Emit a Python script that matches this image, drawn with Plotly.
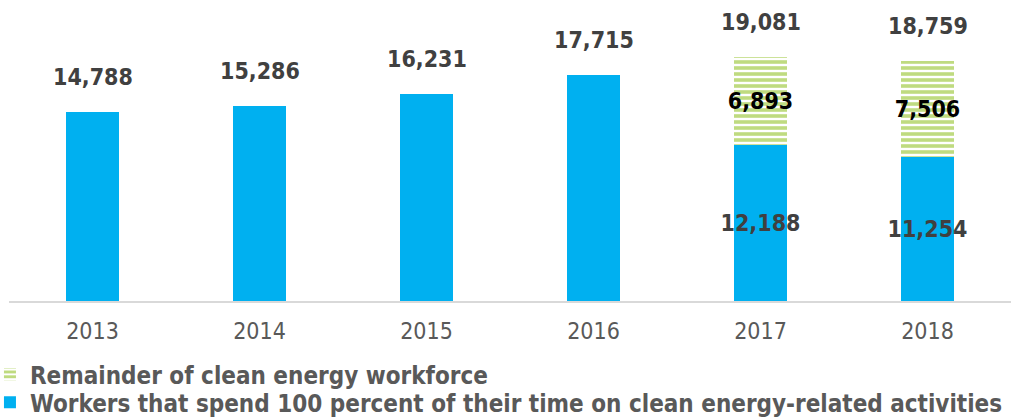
import plotly.graph_objects as go

years = ["2013", "2014", "2015", "2016", "2017", "2018"]
full_time = [14788, 15286, 16231, 17715, 12188, 11254]
remainder = [None, None, None, None, 6893, 7506]
totals = [14788, 15286, 16231, 17715, 19081, 18759]
full_time_labels = ["", "", "", "", "12,188", "11,254"]
remainder_labels = ["", "", "", "", "6,893", "7,506"]

FONT = "DejaVu Sans Condensed, Liberation Sans, sans-serif"
BLUE = "#00B0F0"
GREEN = "#BFDB80"

fig = go.Figure()
fig.add_trace(go.Bar(
    x=years, y=full_time, name="Workers that spend 100 percent of their time on clean energy-related activities",
    legend="legend2",
    marker=dict(color=BLUE, line=dict(width=0)),
    text=full_time_labels, textposition="inside", insidetextanchor="middle",
    textangle=0, constraintext="none",
    textfont=dict(family=FONT, size=23, color="#404040", weight="bold"),
))
fig.add_trace(go.Bar(
    x=years, y=remainder, name="Remainder of clean energy workforce",
    legend="legend",
    marker=dict(color=GREEN, line=dict(width=0),
                pattern=dict(shape="-", fgcolor=GREEN, bgcolor="white", fgopacity=1,
                             size=6, solidity=0.6, fillmode="replace")),
    text=remainder_labels, textposition="inside", insidetextanchor="middle",
    textangle=0, constraintext="none",
    textfont=dict(family=FONT, size=23, color="#000000", weight="bold"),
))

# category axis: annotations use the category serial number
for i, tot in enumerate(totals):
    fig.add_annotation(x=i, y=tot, xref="x", yref="y", text=f"{tot:,}", showarrow=False,
                       yanchor="middle", yshift=35,
                       font=dict(family=FONT, size=23, color="#404040", weight="bold"))

legend_style = dict(xanchor="left", yanchor="top", itemwidth=30, bgcolor="rgba(0,0,0,0)",
                    font=dict(family=FONT, size=24, color="#595959", weight="bold"))

fig.update_layout(
    width=1030, height=420,
    margin=dict(l=9, r=19, t=5, b=119, autoexpand=False),
    barmode="stack", bargap=0.683,
    plot_bgcolor="white", paper_bgcolor="white",
    showlegend=True,
    legend=dict(x=-0.019, y=-0.1732, **legend_style),
    legend2=dict(x=-0.019, y=-0.2678, **legend_style),
    xaxis=dict(type="category", showline=True, linecolor="#D9D9D9", linewidth=1.5, showgrid=False,
               ticks="", ticklabelstandoff=9,
               tickfont=dict(family=FONT, size=23, color="#595959")),
    yaxis=dict(range=[0, 23160], visible=False, showgrid=False, zeroline=False),
)

fig.write_html("out.html", config={"displayModeBar": False},
               post_script="document.body.style.margin='0';")
